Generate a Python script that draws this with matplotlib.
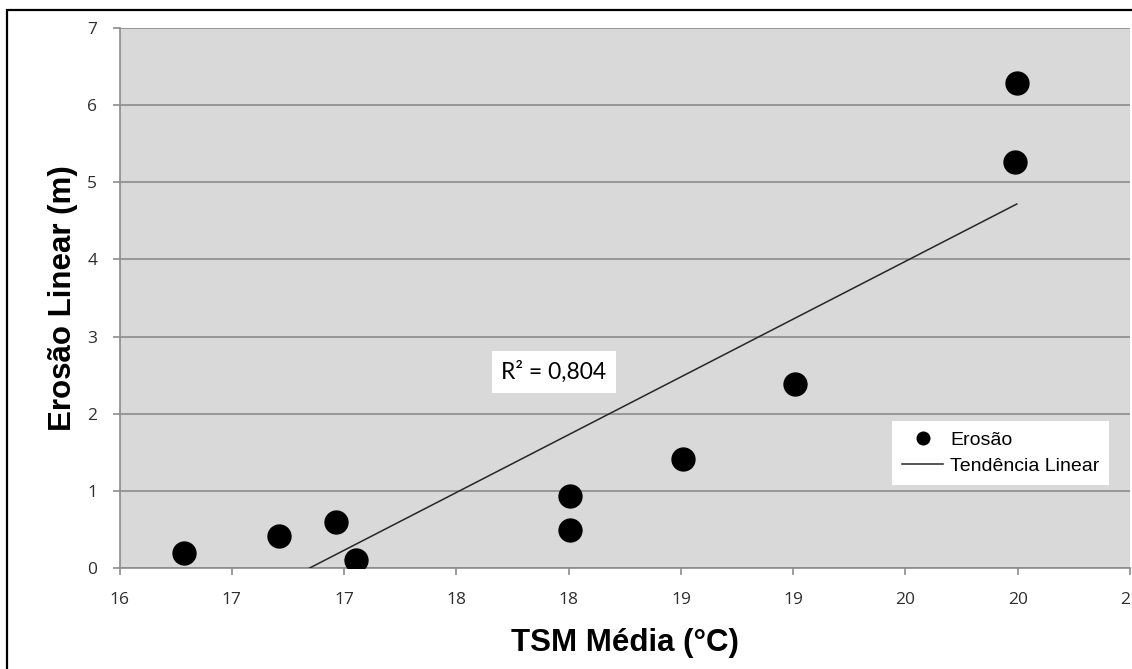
import numpy as np
import matplotlib
matplotlib.use("Agg")
import matplotlib.pyplot as plt
from matplotlib.patches import Rectangle

# valores
tsm = np.array([16.32, 16.79, 17.07, 17.17, 18.23, 18.23, 18.79, 19.34, 20.43, 20.44])
erosao = np.array([0.20, 0.41, 0.60, 0.10, 0.93, 0.49, 1.41, 2.38, 5.26, 6.29])
x_ticks = np.linspace(16, 21, 10)
x_labels = ["%d" % round(v) for v in x_ticks]
y_ticks = [0, 1, 2, 3, 4, 5, 6, 7]
r2_text = "R² = 0,804"

# tendencia linear (minimos quadrados)
a, b = np.polyfit(tsm, erosao, 1)
xt = np.array([tsm.min(), tsm.max()])
yt = a * xt + b

fig = plt.figure(figsize=(11.32, 6.69), dpi=100)
ax = fig.add_axes([119.5/1132, 1 - 568/669, (1130 - 119.5)/1132, (568 - 28)/669])
ax.set_facecolor('#D9D9D9')

ax.plot(xt, yt, color='#262626', lw=1.1, label='Tendência Linear', zorder=3)
ax.plot(tsm, erosao, 'o', color='black', ms=16.5, label='Erosão', zorder=4)

ax.set_xlim(16, 21)
ax.set_ylim(0, 7)
ax.set_xticks(x_ticks)
ax.set_xticklabels(x_labels)
ax.set_yticks(y_ticks)
ax.grid(axis='y', color='#8C8C8C', lw=1.2)
ax.set_axisbelow(True)

for s in ['right', 'top']:
    ax.spines[s].set_visible(False)
for s in ['left', 'bottom']:
    ax.spines[s].set_color('#8C8C8C')
    ax.spines[s].set_linewidth(1.2)

ax.tick_params(axis='both', colors='#8C8C8C', labelcolor='#2E2E2E', length=5, width=1.2)
ax.tick_params(axis='x', pad=12, labelsize=12.5)
ax.tick_params(axis='y', pad=11, labelsize=12.5)
for lab in ax.get_xticklabels() + ax.get_yticklabels():
    lab.set_family('Open Sans')

ax.set_xlabel('TSM Média (°C)', fontsize=22.5, fontweight='bold', family='Liberation Sans', labelpad=15)
ax.set_ylabel('Erosão Linear (m)', fontsize=22.5, fontweight='bold', family='Liberation Sans', labelpad=7)

ax.text(18.15, 2.54, r2_text, fontsize=16.5, family='Lato', ha='center', va='center',
        bbox=dict(facecolor='white', edgecolor='none', pad=7), zorder=5)

h, l = ax.get_legend_handles_labels()
leg = ax.legend(h[::-1], l[::-1], loc='center', bbox_to_anchor=(0.872, 0.213),
                frameon=True, fancybox=False, prop={'family': 'Liberation Sans', 'size': 14},
                handlelength=2.15, markerscale=0.55, borderpad=0.5, labelspacing=0.45,
                handletextpad=0.35)
leg.get_frame().set_edgecolor('none')
leg.get_frame().set_facecolor('white')
leg.get_frame().set_alpha(1)

# moldura externa do grafico
fig.patches.append(Rectangle((7/1132, -0.2), 1.2, 1.2 - 10/669, transform=fig.transFigure,
                             fill=False, edgecolor='black', lw=1.6))

fig.savefig('out.png', dpi=100, facecolor='white')
